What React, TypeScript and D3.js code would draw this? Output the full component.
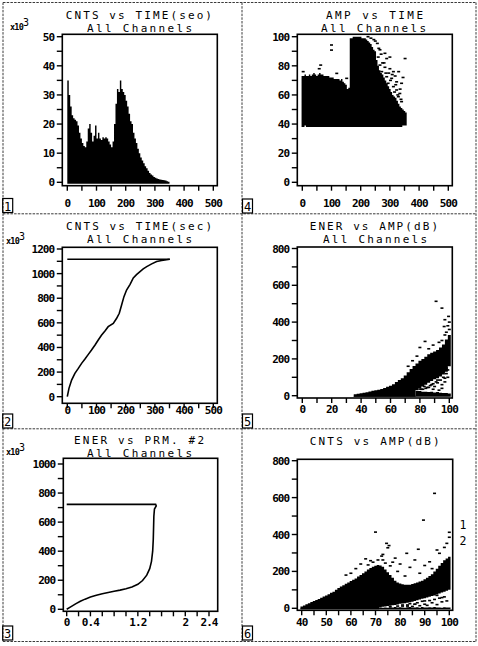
import React from "react";
import * as d3 from "d3";

// ---------------- DATA ----------------
// Panel 1: CNTS vs TIME (histogram, counts x10^3), 5 s bins
const p1Time = [0,5,10,15,20,25,30,35,40,45,50,55,60,65,70,75,80,85,90,95,100,105,110,115,120,125,130,135,140,145,150,155,160,165,170,175,180,185,190,195,200,205,210,215,220,225,230,235,240,245,250,255,260,265,270,275,280,285,290,295,300,305,310,315,320,325,330,335,340,345];
const p1Cnts = [35,30,26,23,22,21.5,21,19.5,17,15,13.5,12.5,12,14,18.5,20,17,14,16,19.5,15,17,15,14.5,15.5,15,15.5,15,14,13,12,14,20,27,32,31,35,32,31,30,28,26,23.5,21,20,17,15,13.5,11.5,10,8.5,7.5,6.5,5.5,4.8,4,3.2,2.7,2.3,1.8,1.6,1.3,1.1,1.0,0.9,0.8,0.7,0.6,0.4,0.2];

// Panel 2: cumulative CNTS vs TIME (x10^3)
const p2Time = [0,5.7,14.8,26,37.7,49,60.5,72,83,95,106,117.6,129,140,157.5,169,178,186,194,203,215,226,237,249,260,272,289,306,323,351];
const p2Cnts = [0,68,135,190,230,271,306,344,379,420,461,501,534,569,596,637,678,745,813,867,913,965,992,1016,1038,1057,1079,1098,1106,1117];
const p2PlateauTime = [0,351];
const p2PlateauCnts = [1117,1117];

// Panel 3: ENER vs PRM #2 (x10^3)
const p3Prm = [0,0.06,0.15,0.23,0.31,0.4,0.5,0.6,0.7,0.8,0.9,1.0,1.1,1.2,1.28,1.35,1.4,1.43,1.45,1.46,1.465,1.47,1.48,1.51,1.5,0];
const p3Ener = [0,15,37,55,70,84,96,107,116,124,132,141,153,172,198,235,280,330,400,480,560,640,690,712,722,722];

// Panel 4: AMP vs TIME (dense cloud as columns + sparse points)
const p4Time = [0,5,10,15,20,25,30,35,40,45,50,55,60,65,70,75,80,85,90,95,100,105,110,115,120,125,130,135,140,145,150,155,160,165,170,175,180,185,190,195,200,205,210,215,220,225,230,235,240,245,250,255,260,265,270,275,280,285,290,295,300,305,310,315,320,325,330,335,340,345,350,355];
const p4Hi = [73,73,74,73,73,74,73,74,75,74,73,74,75,74,74,73,73,73,73,72,72,72,71,71,71,71,70,71,69,68,67,64,65,99,99,100,100,100,100,100,100,99,99,99,98,97,96,95,93,91,90,84,80,77,75,74,72,70,68,66,64,62,60,59,58,56,54,52,51,50,49,48];
const p4Lo = [38,38,39,38,38,38,38,38,38,38,38,38,38,38,38,38,38,38,38,38,38,38,38,38,38,38,38,38,38,38,38,38,38,38,38,38,38,38,38,38,38,38,38,38,38,38,38,38,38,38,38,38,38,38,38,38,38,38,38,38,38,38,38,38,38,38,38,38,38,39,39,39];
const p4SpkTime = [3,58,63,100,100,118,152,157,257,260,266,266,272,283,283,289,289,294,300,300,306,312,312,323,323,329,334,340,340,352,330,318,345,275,296,308,320,335,262,270,280,250,245,235,225,286,302,316,327,338];
const p4SpkAmp = [76,78,80.5,94.3,90.8,74.8,71.4,63.4,95.4,86,91,80.5,76,88.6,79,85,72.5,68,86,78,71.4,76,65.7,69,63.4,58.8,61,68,55.4,85,76,73,72,82,75,74,67,64,92,88,82,97,98,99,100,75,70,62,60,57];

// Panel 5: ENER vs AMP(dB)
const p5Amp = [36,38,40,42,44,46,48,50,52,54,56,58,60,62,64,66,68,70,72,74,76,78,80,82,84,86,88,90,92,94,96,98,100];
const p5Top = [8,10,13,16,19,23,27,30,33,37,42,48,54,62,74,85,95,110,128,145,162,175,190,200,212,225,233,240,248,262,278,305,330];
const p5Bot = [0,0,0,0,0,0,0,0,0,0,0,0,0,0,0,0,0,0,0,0,0,30,40,50,60,70,80,90,95,105,115,130,160];
const p5Strip = [0,0,0,0,0,0,0,0,0,0,0,0,0,0,0,0,0,0,0,0,0,25,25,22,22,20,22,18,20,16,15,14,12];
const p5SpkAmp = [91,95,96.5,98,97,99.5,100,99,83.5,80,86,89,93,95,97,100,75,72,78,82,86,88,90,92,94,95,97,99,84,89,93,96,98,81,87,91,85,83,89,92,95,97,99,86,90,94,98,80,88,96];
const p5SpkEner = [513,476,376,345,413,431,400,380,295,262,255,275,290,300,330,360,190,160,215,35,45,60,50,70,85,40,75,100,40,35,30,100,120,35,55,75,45,50,65,85,60,95,140,90,105,120,150,36,100,130];

// Panel 6: CNTS vs AMP(dB)
const p6Amp = [40,41,42,43,44,45,46,47,48,49,50,51,52,53,54,55,56,57,58,59,60,61,62,63,64,65,66,67,68,69,70,71,72,73,74,75,76,77,78,79,80,81,82,83,84,85,86,87,88,89,90,91,92,93,94,95,96,97,98,99,100];
const p6Top = [10,15,22,28,34,40,45,50,57,64,70,76,84,90,100,110,118,125,133,140,148,155,162,172,180,190,200,210,218,225,230,235,232,225,210,195,180,165,150,140,135,130,128,127,128,132,136,140,145,150,158,165,175,185,200,215,230,245,260,270,280];
const p6Bot = [0,0,0,0,0,0,0,0,0,0,0,0,0,0,0,0,0,0,0,0,0,0,0,0,0,0,0,0,0,0,0,0,6,8,10,12,14,16,18,20,24,26,28,30,33,36,40,44,48,52,55,58,62,66,70,75,80,85,90,95,100];
const p6Strip = [0,0,0,0,0,0,0,0,0,0,0,0,0,0,0,0,0,0,0,0,0,0,0,0,0,0,0,0,0,0,0,0,4,3,5,3,6,5,7,4,6,5,3,6,7,4,5,6,3,7,5,4,6,5,7,4,5,3,6,5,4];
const p6SpkAmp = [94,89.5,70,74.5,75.5,75,72.5,73,82.7,87.4,95,96,98,99,100,100,66,68,64,62,78,80,84,90,92,86,77,71,73,58,60,79,83,88,90,93,95,97,85,76,81,91,99,86,69,67,74,76,79,82,88,93,81,84,87,89,92,94,96,98,83,86,90,95,97];
const p6SpkCnts = [623,478,413,352,340,328,283,292,298,320,316,298,330,352,385,412,268,258,240,215,272,240,222,232,252,262,250,262,262,180,190,12,18,14,22,30,20,35,10,9,12,16,40,22,250,235,245,230,200,175,190,215,18,25,30,38,42,48,55,62,12,22,40,70,58];

// Tick values / labels
const timeTicks = [0,50,100,150,200,250,300,350,400,450,500];
const timeLabels = [0,100,200,300,400,500];
const p1YTicks = [0,5,10,15,20,25,30,35,40,45,50];
const p1YLabels = [0,10,20,30,40,50];
const p4YTicks = [0,10,20,30,40,50,60,70,80,90,100];
const p4YLabels = [0,20,40,60,80,100];
const p2YTicks = [0,100,200,300,400,500,600,700,800,900,1000,1100,1200];
const p2YLabels = [0,200,400,600,800,1000,1200];
const p5XTicks = [0,10,20,30,40,50,60,70,80,90,100];
const p5XLabels = [0,20,40,60,80,100];
const p8Ticks = [0,100,200,300,400,500,600,700,800];
const p8Labels = [0,200,400,600,800];
const p3XTicks = [0,0.2,0.4,0.6,0.8,1.0,1.2,1.4,1.6,1.8,2.0,2.2,2.4];
const p3XLabels = [0,0.4,1.2,2,2.4];
const p3YTicks = [0,100,200,300,400,500,600,700,800,900,1000];
const p3YLabels = [0,200,400,600,800,1000];
const p6XTicks = [40,45,50,55,60,65,70,75,80,85,90,95,100];
const p6XLabels = [40,50,60,70,80,90,100];

// ---------------- RENDER ----------------
const MONO = "'DejaVu Sans Mono', 'Liberation Mono', monospace";
const lin = (d: number[], r: number[]) => d3.scaleLinear().domain(d).range(r);

type Cfg = {
  box: number[];
  x: d3.ScaleLinear<number, number>;
  y: d3.ScaleLinear<number, number>;
  xTicks: number[]; xLabels: number[];
  yTicks: number[]; yLabels: number[];
  xBase: number;
};

// step-shaped filled area: columns from left[i] to left[i+1] (last one to end), between lo[i] and hi[i] (pixels)
function stepPath(left: number[], end: number, hi: number[], lo: number[]) {
  const idx = left.map((_, i) => i).concat([left.length]);
  const n = left.length;
  const area = d3.area<number>()
    .curve(d3.curveStepAfter)
    .x((i) => (i < n ? left[i] : end))
    .y0((i) => lo[Math.min(i, n - 1)])
    .y1((i) => hi[Math.min(i, n - 1)]);
  return area(idx) || "";
}

function Axes({ c }: { c: Cfg }) {
  const [x0, y0, x1, y1] = c.box;
  return (
    <g>
      <rect x={x0} y={y0} width={x1 - x0} height={y1 - y0} fill="none" stroke="#000" strokeWidth={1.6} />
      {c.yTicks.map((v, i) => (
        <line key={"yt" + i} x1={x0 - 5.5} x2={x0} y1={c.y(v)} y2={c.y(v)} stroke="#000" strokeWidth={1.4} />
      ))}
      {c.yLabels.map((v, i) => (
        <text key={"yl" + i} x={x0 - 8} y={c.y(v) + 4} textAnchor="end" fontFamily={MONO} fontWeight="bold" fontSize={11} letterSpacing={-0.9}>{String(v)}</text>
      ))}
      {c.xTicks.map((v, i) => (
        <line key={"xt" + i} x1={c.x(v)} x2={c.x(v)} y1={y1} y2={y1 + 5} stroke="#000" strokeWidth={1.4} />
      ))}
      {c.xLabels.map((v, i) => (
        <text key={"xl" + i} x={c.x(v)} y={c.xBase} textAnchor="middle" fontFamily={MONO} fontWeight="bold" fontSize={11} letterSpacing={-0.9}>{String(v)}</text>
      ))}
    </g>
  );
}

function Title({ text, x0, x1, y }: { text: string; x0: number; x1: number; y: number }) {
  return (
    <text x={x0} y={y} fontFamily={MONO} fontSize={11} textLength={x1 - x0} lengthAdjust="spacing">{text}</text>
  );
}

function X103({ x, y }: { x: number; y: number }) {
  return (
    <g fontFamily={MONO}>
      <text x={x} y={y} fontSize={8.5} fontWeight="bold" letterSpacing={-0.8}>x10</text>
      <text x={x + 13} y={y - 4} fontSize={10}>3</text>
    </g>
  );
}

function NumBox({ n, x, y }: { n: string; x: number; y: number }) {
  return (
    <g>
      <rect x={x} y={y} width={10} height={14} fill="none" stroke="#000" strokeWidth={1.2} />
      <text x={x + 5} y={y + 12} textAnchor="middle" fontFamily={MONO} fontSize={12}>{n}</text>
    </g>
  );
}

export default function App() {
  const c1: Cfg = { box: [62.3, 34.3, 217.3, 185.7], x: lin([0, 500], [67.3, 213.3]), y: lin([0, 50], [182.3, 36.7]), xTicks: timeTicks, xLabels: timeLabels, yTicks: p1YTicks, yLabels: p1YLabels, xBase: 206.5 };
  const c4: Cfg = { box: [297.3, 34.3, 452.3, 185.7], x: lin([0, 500], [302.3, 448.3]), y: lin([0, 100], [182.3, 36.7]), xTicks: timeTicks, xLabels: timeLabels, yTicks: p4YTicks, yLabels: p4YLabels, xBase: 206.5 };
  const c2: Cfg = { box: [62.3, 247.3, 217.3, 403.3], x: lin([0, 500], [67.3, 213.3]), y: lin([0, 1200], [396.7, 249]), xTicks: timeTicks, xLabels: timeLabels, yTicks: p2YTicks, yLabels: p2YLabels, xBase: 414 };
  const c5: Cfg = { box: [297.3, 247, 452.3, 398], x: lin([0, 100], [302.3, 449.3]), y: lin([0, 800], [395.7, 248.5]), xTicks: p5XTicks, xLabels: p5XLabels, yTicks: p8Ticks, yLabels: p8Labels, xBase: 413 };
  const c3: Cfg = { box: [63.3, 458.3, 217.7, 611.3], x: lin([0, 2.4], [66.7, 209]), y: lin([0, 1000], [609.3, 464]), xTicks: p3XTicks, xLabels: p3XLabels, yTicks: p3YTicks, yLabels: p3YLabels, xBase: 626 };
  const c6: Cfg = { box: [297.3, 459.3, 452.7, 610.3], x: lin([40, 100], [301.7, 449.3]), y: lin([0, 800], [608.3, 460.7]), xTicks: p6XTicks, xLabels: p6XLabels, yTicks: p8Ticks, yLabels: p8Labels, xBase: 626 };

  const line2 = d3.line<number>().x((_, i) => c2.x(p2Time[i])).y((_, i) => c2.y(p2Cnts[i]));
  const plateau2 = d3.line<number>().x((_, i) => c2.x(p2PlateauTime[i])).y((_, i) => c2.y(p2PlateauCnts[i]));
  const line3 = d3.line<number>().x((_, i) => c3.x(p3Prm[i])).y((_, i) => c3.y(p3Ener[i]));

  const p1Path = stepPath(p1Time.map((t) => c1.x(t)), c1.x(p1Time[p1Time.length - 1] + 5),
    p1Cnts.map((v) => c1.y(v)), p1Cnts.map(() => c1.y(0) + 1.5));
  const p4Path = stepPath(p4Time.map((t) => c4.x(t - 2.5)), c4.x(p4Time[p4Time.length - 1] + 2.5),
    p4Hi.map((v) => c4.y(v)), p4Lo.map((v) => c4.y(v)));
  const p5Main = stepPath(p5Amp.map((a) => c5.x(a - 1)), c5.x(101),
    p5Top.map((v) => c5.y(v)), p5Bot.map((v) => c5.y(v) + (v === 0 ? 1 : 0)));
  const p5StripPath = stepPath(p5Amp.map((a) => c5.x(a - 1)), c5.x(101),
    p5Strip.map((v) => c5.y(v)), p5Strip.map(() => c5.y(0) + 1));
  const p6Main = stepPath(p6Amp.map((a) => c6.x(a - 0.5)), c6.x(100.5),
    p6Top.map((v) => c6.y(v)), p6Bot.map((v) => c6.y(v) + (v === 0 ? 1 : 0)));
  const p6StripPath = stepPath(p6Amp.map((a) => c6.x(a - 0.5)), c6.x(100.5),
    p6Strip.map((v) => c6.y(v)), p6Strip.map(() => c6.y(0) + 1));

  const frame = "#3a3a3a";
  const dash = "2.5 1.2";

  return (
    <svg width={478} height={646} style={{ position: "absolute", left: 0, top: 0, background: "#fff" }}>
      <rect x={0} y={0} width={478} height={646} fill="#fff" />
      <g stroke={frame} strokeWidth={1} strokeDasharray={dash} fill="none">
        <line x1={3} x2={476} y1={2.5} y2={2.5} />
        <line x1={3} x2={476} y1={641.5} y2={641.5} />
        <line x1={3} x2={3} y1={2.5} y2={641.5} />
        <line x1={476} x2={476} y1={2.5} y2={641.5} />
        <line x1={242} x2={242} y1={2.5} y2={641.5} />
        <line x1={3} x2={476} y1={213.8} y2={213.8} />
        <line x1={3} x2={476} y1={428.8} y2={428.8} />
      </g>

      {/* Panel 1 */}
      <g>
        <path d={p1Path} fill="#000" />
        <Axes c={c1} />
        <Title text="CNTS vs TIME(seo)" x0={65.7} x1={212} y={18.8} />
        <Title text="All Channels" x0={87} x1={192} y={31.8} />
        <X103 x={10} y={30} />
        <NumBox n="1" x={2.7} y={198.5} />
      </g>

      {/* Panel 4 */}
      <g>
        <path d={p4Path} fill="#000" />
        {p4SpkTime.map((t, i) => (
          <rect key={"s" + i} x={c4.x(t) - 1.5} y={c4.y(p4SpkAmp[i]) - 0.8} width={3} height={1.6} fill="#000" />
        ))}
        <Axes c={c4} />
        <Title text="AMP vs TIME" x0={326} x1={423} y={18.8} />
        <Title text="All Channels" x0={321} x1={426} y={31.8} />
        <NumBox n="4" x={242.5} y={199} />
      </g>

      {/* Panel 2 */}
      <g>
        <path d={plateau2(p2PlateauTime) || ""} fill="none" stroke="#000" strokeWidth={1.6} />
        <path d={line2(p2Time) || ""} fill="none" stroke="#000" strokeWidth={1.6} />
        <Axes c={c2} />
        <Title text="CNTS vs TIME(sec)" x0={66} x1={212} y={229.8} />
        <Title text="All Channels" x0={87} x1={192} y={242.8} />
        <X103 x={6} y={244} />
        <NumBox n="2" x={2.7} y={414} />
      </g>

      {/* Panel 5 */}
      <g>
        <path d={p5Main} fill="#000" />
        <path d={p5StripPath} fill="#000" />
        {p5SpkAmp.map((a, i) => (
          <rect key={"s" + i} x={c5.x(a) - 1.5} y={c5.y(p5SpkEner[i]) - 0.8} width={3} height={1.6} fill="#000" />
        ))}
        <Axes c={c5} />
        <Title text="ENER vs AMP(dB)" x0={309.7} x1={438} y={229.8} />
        <Title text="All Channels" x0={323} x1={427} y={242.8} />
        <NumBox n="5" x={242.5} y={414} />
      </g>

      {/* Panel 3 */}
      <g>
        <path d={line3(p3Prm) || ""} fill="none" stroke="#000" strokeWidth={1.6} />
        <Axes c={c3} />
        <Title text="ENER vs PRM. #2" x0={74} x1={204} y={443.5} />
        <Title text="All Channels" x0={87} x1={192} y={456.5} />
        <X103 x={6} y={455} />
        <NumBox n="3" x={2.7} y={626} />
      </g>

      {/* Panel 6 */}
      <g>
        <path d={p6Main} fill="#000" />
        <path d={p6StripPath} fill="#000" />
        {p6SpkAmp.map((a, i) => (
          <rect key={"s" + i} x={c6.x(a) - 1.5} y={c6.y(p6SpkCnts[i]) - 0.8} width={3} height={1.6} fill="#000" />
        ))}
        <Axes c={c6} />
        <Title text="CNTS vs AMP(dB)" x0={309.7} x1={439.7} y={445} />
        <text x={463} y={528.5} textAnchor="middle" fontFamily={MONO} fontSize={11.5}>1</text>
        <text x={463} y={545} textAnchor="middle" fontFamily={MONO} fontSize={11.5}>2</text>
        <NumBox n="6" x={242.5} y={626} />
      </g>
    </svg>
  );
}
